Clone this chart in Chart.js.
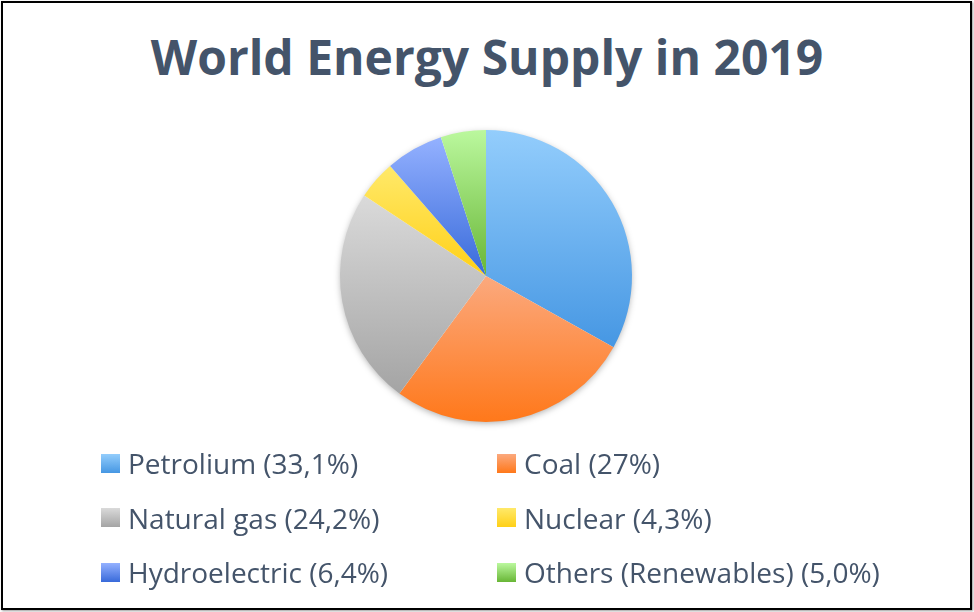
<!DOCTYPE html>
<html lang="en">
<head>
  <meta charset="UTF-8" />
  <title>World Energy Supply in 2019</title>
  <style>
    body {
      margin: 0;
      background: #fff;
      font-family: "Open Sans", sans-serif;
      color: #44546A;
    }
    .frame {
      position: absolute;
      left: 1px; top: 1px;
      width: 967px; height: 605px;
      border: 2px solid #000;
      box-shadow: 1px 1px 2px rgba(0,0,0,0.4);
    }
    h1 {
      position: absolute;
      left: 0; width: 974px; top: 22px;
      margin: 0;
      text-align: center;
      font-size: 48px;
      font-weight: 700;
      line-height: 70px;
    }
    #chartBox { position: absolute; left: 0; top: 0; width: 974px; height: 612px; }
    .legend { position: absolute; left: 101px; top: 446px; width: 860px; }
    .item {
      position: absolute;
      display: flex; align-items: center;
      font-size: 28px; white-space: nowrap;
      height: 34px;
    }
    .sw { width: 19px; height: 19px; margin-right: 8px; }
  </style>
</head>
<body>
  <div class="frame"></div>
  <h1>World Energy Supply in 2019</h1>
  <div id="chartBox"><canvas id="pie" width="974" height="612"></canvas></div>
  <div class="legend" id="legend"></div>

  <script src="https://cdn.jsdelivr.net/npm/chart.js"></script>
  <script>
    const sources = ["Petrolium", "Coal", "Natural gas", "Nuclear", "Hydroelectric", "Others (Renewables)"];
    const shares = [33.1, 27, 24.2, 4.3, 6.4, 5.0];
    const shareLabels = ["33,1%", "27%", "24,2%", "4,3%", "6,4%", "5,0%"];
    const topColors = ["#93CDFC", "#FBA97E", "#DADADA", "#FFE96A", "#94B1FF", "#BBF89E"];
    const bottomColors = ["#4697E3", "#FF781A", "#A4A4A4", "#FFD017", "#386ADA", "#68B636"];

    // y-extent of a pie sector, so each slice gets its own top-to-bottom gradient
    function sectorRange(chart, i) {
      const a = chart.chartArea;
      const cx = (a.left + a.right) / 2, cy = (a.top + a.bottom) / 2;
      const r = Math.min(a.right - a.left, a.bottom - a.top) / 2;
      const total = shares.reduce((s, v) => s + v, 0);
      let before = 0;
      for (let k = 0; k < i; k++) before += shares[k];
      const t0 = -Math.PI / 2 + before / total * 2 * Math.PI;
      const t1 = t0 + shares[i] / total * 2 * Math.PI;
      const ys = [cy, cy + r * Math.sin(t0), cy + r * Math.sin(t1)];
      if (t0 <= -Math.PI / 2 + 1e-6 || t1 >= 1.5 * Math.PI - 1e-6) ys.push(cy - r);
      if (t0 <= Math.PI / 2 && t1 >= Math.PI / 2) ys.push(cy + r);
      return [Math.min(...ys), Math.max(...ys)];
    }

    function sliceFill(context) {
      const chart = context.chart;
      const i = context.dataIndex;
      if (!chart.chartArea) return bottomColors[i];
      const [y0, y1] = sectorRange(chart, i);
      const g = chart.ctx.createLinearGradient(0, y0, 0, y1);
      g.addColorStop(0, topColors[i]);
      g.addColorStop(1, bottomColors[i]);
      return g;
    }

    const pieShadow = {
      id: "pieShadow",
      beforeDatasetsDraw(chart) {
        const a = chart.chartArea, c = chart.ctx;
        const cx = (a.left + a.right) / 2, cy = (a.top + a.bottom) / 2;
        const r = Math.min(a.right - a.left, a.bottom - a.top) / 2;
        c.save();
        c.shadowColor = "rgba(0,0,0,0.35)";
        c.shadowBlur = 7;
        c.shadowOffsetY = 2;
        c.beginPath();
        c.arc(cx, cy, r - 1, 0, 2 * Math.PI);
        c.fillStyle = "#fff";
        c.fill();
        c.restore();
      }
    };

    new Chart(document.getElementById("pie"), {
      type: "pie",
      data: {
        labels: sources,
        datasets: [{
          data: shares,
          backgroundColor: sliceFill,
          borderWidth: 0
        }]
      },
      options: {
        responsive: false,
        animation: false,
        layout: { padding: { top: 130, bottom: 190, left: 340, right: 342 } },
        plugins: { legend: { display: false }, tooltip: { enabled: false }, title: { display: false } }
      },
      plugins: [pieShadow]
    });

    // two-column legend, filled row by row
    const legend = document.getElementById("legend");
    sources.forEach((name, i) => {
      const item = document.createElement("div");
      item.className = "item";
      item.style.left = (i % 2) * 396 + "px";
      item.style.top = Math.floor(i / 2) * 54.5 + "px";
      const sw = document.createElement("span");
      sw.className = "sw";
      sw.style.background = "linear-gradient(" + topColors[i] + ", " + bottomColors[i] + ")";
      const txt = document.createElement("span");
      txt.textContent = name + " (" + shareLabels[i] + ")";
      item.appendChild(sw);
      item.appendChild(txt);
      legend.appendChild(item);
    });
  </script>
</body>
</html>
